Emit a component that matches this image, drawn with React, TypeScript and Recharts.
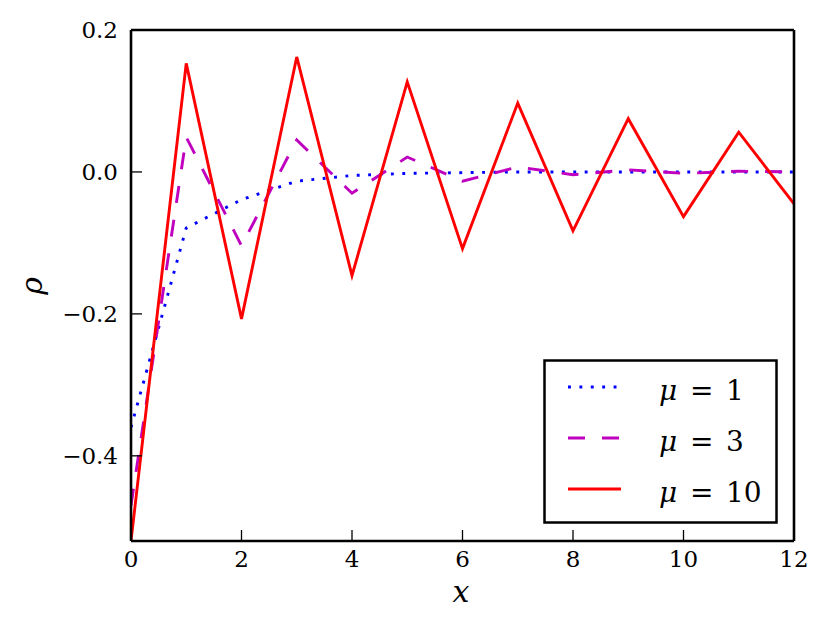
import React from "react";
import { LineChart, Line, XAxis, YAxis, Legend } from "recharts";

const xValues = [0, 1, 2, 3, 4, 5, 6, 7, 8, 9, 10, 11, 12];
const mu1 = [-0.36, -0.079, -0.039, -0.013, -0.005, -0.002, -0.001, 0, 0, 0, 0, 0, 0];
const mu3 = [-0.47, 0.049, -0.104, 0.045, -0.03, 0.021, -0.013, 0.007, -0.004, 0.003, -0.002, 0.001, 0];
const mu10 = [-0.52, 0.153, -0.207, 0.162, -0.146, 0.127, -0.108, 0.097, -0.083, 0.075, -0.063, 0.056, -0.045];
const xTicks = [0, 2, 4, 6, 8, 10, 12];
const yTicks = [-0.4, -0.2, 0, 0.2];
const seriesKeys = ["mu1", "mu3", "mu10"];
const seriesLabels = ["1", "3", "10"];

const data = xValues.map((x, i) => ({ x, mu1: mu1[i], mu3: mu3[i], mu10: mu10[i] }));

const FONT = "DejaVu Serif";

const fmtY = (v: number) => (v < 0 ? "\u2212" + Math.abs(v).toFixed(1) : v.toFixed(1));

const LegendBox = (props: any) => {
  const payload = [...(props.payload || [])].sort(
    (a: any, b: any) => seriesKeys.indexOf(a.dataKey) - seriesKeys.indexOf(b.dataKey)
  );
  return (
    <svg width={236} height={166} style={{ display: "block" }}>
      <rect x={1.5} y={1.5} width={232} height={162} fill="#fff" stroke="#000" strokeWidth={2.5} />
      {payload.map((p: any, i: number) => {
        const ly = 28 + i * 51;
        const by = 41 + i * 51;
        const k = seriesKeys.indexOf(p.dataKey);
        return (
          <g key={i}>
            <line
              x1={25}
              x2={78}
              y1={ly}
              y2={ly}
              stroke={p.color}
              strokeWidth={2.9}
              strokeDasharray={p.payload?.strokeDasharray}
            />
            <text x={116} y={by} style={{ fontFamily: FONT, fontSize: 28, fontStyle: "italic" }} fill="#000">μ</text>
            <text x={147} y={by} style={{ fontFamily: FONT, fontSize: 28 }} fill="#000">=</text>
            <text x={183} y={by} style={{ fontFamily: FONT, fontSize: 28 }} fill="#000">{seriesLabels[k]}</text>
          </g>
        );
      })}
    </svg>
  );
};

const axisLine = { stroke: "#000", strokeWidth: 2.6 };
const tickLine = { stroke: "#000", strokeWidth: 1.3 };

export default function App() {
  return (
    <div style={{ position: "absolute", left: 0, top: 0, width: 829, height: 626, background: "#fff", fontFamily: FONT }}>
      <LineChart
        width={829}
        height={626}
        data={data}
        margin={{ top: 29, right: 34, bottom: 84, left: 130 }}
      >
        <XAxis
          xAxisId="b"
          dataKey="x"
          type="number"
          domain={[0, 12]}
          ticks={xTicks}
          height={1}
          tickSize={-11}
          tickMargin={21}
          allowDataOverflow
          axisLine={axisLine}
          tickLine={tickLine}
          tick={{ fontFamily: FONT, fontSize: 23, fill: "#000" }}
        />
        <XAxis
          xAxisId="t"
          dataKey="x"
          type="number"
          orientation="top"
          domain={[0, 12]}
          ticks={xTicks}
          height={1}
          tickSize={-11}
          tick={false}
          allowDataOverflow
          axisLine={axisLine}
          tickLine={tickLine}
        />
        <YAxis
          yAxisId="l"
          type="number"
          domain={[-0.52, 0.2]}
          ticks={yTicks}
          width={1}
          tickSize={-11}
          tickMargin={24}
          allowDataOverflow
          tickFormatter={fmtY}
          axisLine={axisLine}
          tickLine={tickLine}
          tick={{ fontFamily: FONT, fontSize: 23, fill: "#000" }}
        />
        <YAxis
          yAxisId="r"
          orientation="right"
          type="number"
          domain={[-0.52, 0.2]}
          ticks={yTicks}
          width={1}
          tickSize={-11}
          tick={false}
          allowDataOverflow
          axisLine={axisLine}
          tickLine={tickLine}
        />
        <Line
          xAxisId="b"
          yAxisId="l"
          type="linear"
          dataKey="mu1"
          name="μ = 1"
          stroke="#0000ff"
          strokeWidth={2.9}
          strokeDasharray="2.9 8.5"
          dot={false}
          isAnimationActive={false}
        />
        <Line
          xAxisId="b"
          yAxisId="l"
          type="linear"
          dataKey="mu3"
          name="μ = 3"
          stroke="#bf00bf"
          strokeWidth={2.9}
          strokeDasharray="17 17"
          dot={false}
          isAnimationActive={false}
        />
        <Line
          xAxisId="b"
          yAxisId="l"
          type="linear"
          dataKey="mu10"
          name="μ = 10"
          stroke="#ff0000"
          strokeWidth={2.9}
          dot={false}
          isAnimationActive={false}
        />
        <Legend
          layout="vertical"
          align="center"
          verticalAlign="middle"
          content={<LegendBox />}
          wrapperStyle={{ position: "absolute", left: 543, top: 359, width: 236, height: 166 }}
        />
      </LineChart>
      <svg style={{ position: "absolute", left: 0, top: 0, pointerEvents: "none" }} width={829} height={626}>
        <text x={461} y={602} textAnchor="middle" style={{ fontFamily: FONT, fontSize: 30, fontStyle: "italic" }} fill="#000">x</text>
        <text
          x={0}
          y={0}
          transform="translate(42 286) rotate(-90)"
          textAnchor="middle"
          style={{ fontFamily: FONT, fontSize: 30, fontStyle: "italic" }}
          fill="#000"
        >
          ρ
        </text>
      </svg>
    </div>
  );
}
